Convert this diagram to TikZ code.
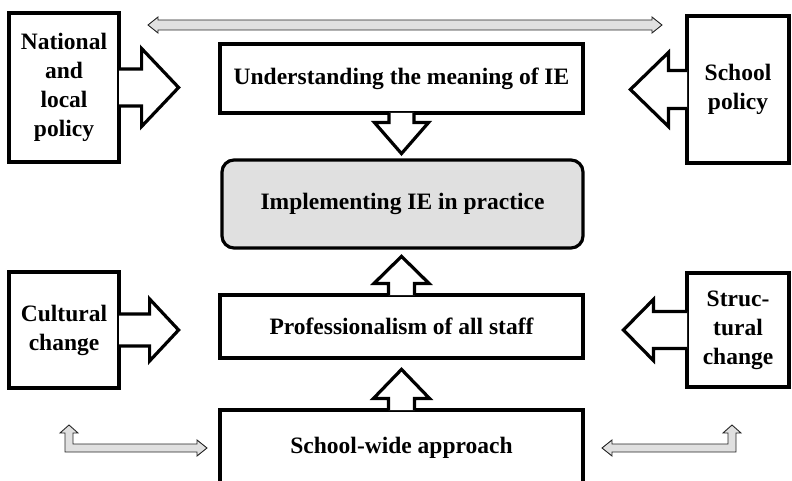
\documentclass[tikz,border=0pt]{standalone}
\usepackage{fontspec}
\setmainfont{Liberation Serif}
\usetikzlibrary{calc}

\definecolor{panelgrey}{gray}{0.88}

% block arrow growing out of a box side
% #1 anchor, #2 direction, #3 shaft, #4 head, #5 half shaft, #6 half head
\newcommand{\boxarrow}[6]{%
  \begin{scope}[shift={(#1)}, rotate=#2]
    \fill[white] (-1.6,-#5) -- (#3,-#5) -- (#3,-#6) -- (#3+#4,0)
      -- (#3,#6) -- (#3,#5) -- (-1.6,#5) -- cycle;
    \draw[callout] (-1.6,-#5) -- (#3,-#5) -- (#3,-#6) -- (#3+#4,0)
      -- (#3,#6) -- (#3,#5) -- (-1.6,#5);
  \end{scope}}

\begin{document}
\begin{tikzpicture}[x=1pt, y=-1pt,
    every node/.style={font=\fontsize{23.5}{29}\selectfont\bfseries, align=center},
    stagebox/.style={draw, line width=3.2pt, fill=white, inner sep=0pt},
    callout/.style={line width=3.2pt},
    thinarrow/.style={draw=black!85, line width=0.9pt, fill=panelgrey}]
    \clip (0,0) rectangle (792,481);

    % centre column
    \node [stagebox, minimum width=363pt, minimum height=69pt] (underst) at (401.5,78.5) {Understanding the meaning of IE};
    \node [stagebox, minimum width=361pt, minimum height=88pt, rounded corners=12pt, fill=panelgrey] (implem) at (402.5,204) {Implementing IE in practice};
    \node [stagebox, minimum width=363pt, minimum height=63pt] (prof) at (401.5,326.5) {Professionalism of all staff};
    \node [stagebox, minimum width=363pt, minimum height=76pt] (school) at (401.5,448) {School-wide approach};

    % side boxes
    \node [stagebox, minimum width=110pt, minimum height=149pt] (natpol) at (64,87.5) {National\\and\\local\\policy};
    \node [stagebox, minimum width=102pt, minimum height=147pt] (schpol) at (738,89.5) {School\\policy};
    \node [stagebox, minimum width=110pt, minimum height=116pt] (cultural) at (64,330) {Cultural\\change};
    \node [stagebox, minimum width=102pt, minimum height=114pt] (struct) at (738,330) {Struc-\\tural\\change};

    % block arrows
    \boxarrow{natpol.east}{0}{21}{37}{18.5}{39}
    \boxarrow{schpol.west}{180}{17}{38}{19}{37}
    \boxarrow{cultural.east}{0}{29}{29}{16}{31}
    \boxarrow{struct.west}{180}{32}{30}{18.5}{30.5}
    \boxarrow{underst.south}{270}{8}{31}{12.5}{27}
    \boxarrow{prof.north}{90}{10}{27}{13}{27.5}
    \boxarrow{school.north}{90}{10}{29}{13}{28}

    % thin grey arrows
    \coordinate (topL) at (148,25);
    \coordinate (elbL) at (69,425);
    \coordinate (elbR) at (732,425);
    \draw [thinarrow] (topL) -- ++(10,-8) -- ++(0,3) -- ++(494,0) -- ++(0,-3) -- ++(10,8)
        -- ++(-10,8) -- ++(0,-3) -- ++(-494,0) -- ++(0,3) -- cycle;
    \draw [thinarrow] (elbL) -- ++(9,8) -- ++(-5,0) -- ++(0,11) -- ++(124,0) -- ++(0,-4) -- ++(10,8)
        -- ++(-10,8) -- ++(0,-4) -- ++(-132,0) -- ++(0,-19) -- ++(-5,0) -- cycle;
    \draw [thinarrow] (elbR) -- ++(9,8) -- ++(-5,0) -- ++(0,19) -- ++(-124,0) -- ++(0,4) -- ++(-10,-8)
        -- ++(10,-8) -- ++(0,4) -- ++(116,0) -- ++(0,-11) -- ++(-5,0) -- cycle;
\end{tikzpicture}
\end{document}
